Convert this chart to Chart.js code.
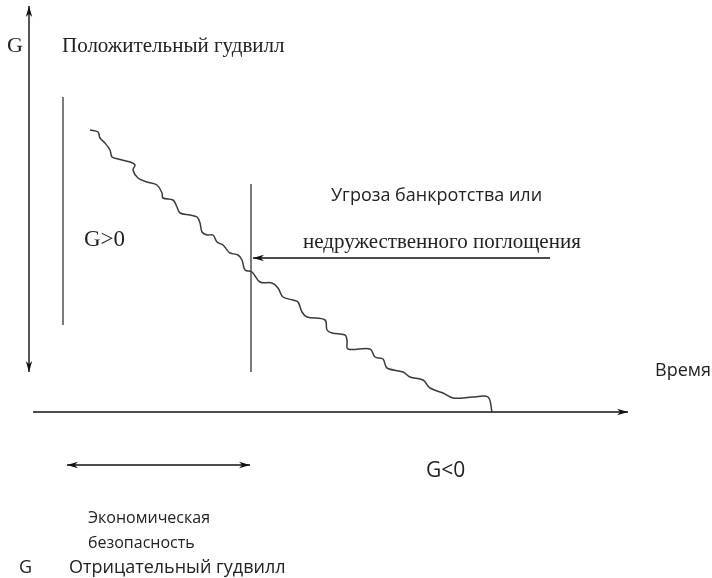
<!DOCTYPE html>
<html>
<head>
<meta charset="utf-8">
<script src="https://cdn.jsdelivr.net/npm/chart.js@4"></script>
<style>
  body { margin: 0; background: #fff; }
  canvas { display: block; }
</style>
</head>
<body>
<canvas id="goodwillChart" width="712" height="578"></canvas>
<script>
// кривая гудвилла (координаты в единицах шкал)
const waveX = [90, 98, 100, 105, 110, 112, 118, 130, 135, 133, 138, 147, 157, 162, 163, 173, 177, 180, 190, 197, 200, 202, 207, 213, 217, 223, 227, 230, 238, 242, 245,
    252, 260, 272, 278, 283, 293, 298, 302, 307, 325, 327, 332, 345, 347, 348, 370, 375, 383, 387, 403, 410, 423, 430, 443, 453, 473, 488, 492];
const waveY = [130, 132, 138, 143, 150, 157, 159, 162, 165, 170, 178, 182, 185, 193, 198, 200, 207, 213, 215, 217, 223, 232, 235, 235, 242, 245, 250, 253, 255, 260, 270,
    272, 282, 283, 288, 297, 300, 302, 312, 317, 320, 330, 333, 335, 340, 349, 349, 357, 359, 368, 372, 377, 380, 388, 393, 398, 397, 397, 412];

// оси и вспомогательные линии
const axisGX = [29, 29], axisGY = [6, 372];
const axisTX = [33, 628], axisTY = [412, 412];
const leftBarX = [63, 63], leftBarY = [97, 325];
const threatBarX = [251, 251], threatBarY = [184, 372];
const threatArrowX = [550, 253], threatArrowY = [258, 258];
const safetyArrowX = [67, 250], safetyArrowY = [465, 465];

// подписи
const labelTexts = ['G', 'Положительный гудвилл', 'G>0', 'Угроза банкротства или', 'недружественного поглощения',
    'Время', 'G<0', 'Экономическая', 'безопасность', 'G', 'Отрицательный гудвилл'];
const labelX = [7, 62, 84, 331, 303, 655, 426, 88, 88, 19, 69];
const labelY = [46, 46, 240, 196, 242, 371, 471, 518, 543, 568, 568];

const serif = '"Liberation Serif", "DejaVu Serif", serif';
const sans = '"Open Sans", "Noto Sans", sans-serif';
const labelFonts = [
    '22px ' + serif, '21px ' + serif, '23px ' + serif, '18px ' + sans, '21px ' + serif,
    '18px ' + sans, '21px ' + sans, '16px ' + sans, '16px ' + sans, '18px ' + sans, '18px ' + sans
];

const toPoints = (xs, ys) => xs.map((x, i) => ({ x: x, y: ys[i] }));

function segment(xs, ys, color) {
    return {
        data: toPoints(xs, ys),
        showLine: true,
        borderColor: color,
        borderWidth: 1.4,
        pointRadius: 0,
        tension: 0
    };
}

// наконечники стрелок: [массив X, массив Y, с обоих концов?]
const arrowHeads = [
    [axisGX, axisGY, true],
    [axisTX, axisTY, false],
    [threatArrowX, threatArrowY, false],
    [safetyArrowX, safetyArrowY, true]
];

const annotationsPlugin = {
    id: 'annotations',
    afterDatasetsDraw(chart) {
        const ctx = chart.ctx;
        const xs = chart.scales.x;
        const ys = chart.scales.y;

        function head(x1, y1, x2, y2) {
            const px1 = xs.getPixelForValue(x1), py1 = ys.getPixelForValue(y1);
            const px2 = xs.getPixelForValue(x2), py2 = ys.getPixelForValue(y2);
            const a = Math.atan2(py2 - py1, px2 - px1);
            const len = 11, w = 3.2;
            ctx.beginPath();
            ctx.moveTo(px2, py2);
            ctx.lineTo(px2 - len * Math.cos(a) + w * Math.sin(a), py2 - len * Math.sin(a) - w * Math.cos(a));
            ctx.lineTo(px2 - len * 0.7 * Math.cos(a), py2 - len * 0.7 * Math.sin(a));
            ctx.lineTo(px2 - len * Math.cos(a) - w * Math.sin(a), py2 - len * Math.sin(a) + w * Math.cos(a));
            ctx.closePath();
            ctx.fill();
        }

        ctx.save();
        ctx.fillStyle = '#111';
        arrowHeads.forEach(([ax, ay, both]) => {
            head(ax[0], ay[0], ax[1], ay[1]);
            if (both) head(ax[1], ay[1], ax[0], ay[0]);
        });

        ctx.textBaseline = 'middle';
        ctx.textAlign = 'left';
        labelTexts.forEach((t, i) => {
            ctx.font = labelFonts[i];
            ctx.fillStyle = '#222';
            ctx.fillText(t, xs.getPixelForValue(labelX[i]), ys.getPixelForValue(labelY[i]));
        });
        ctx.restore();
    }
};

new Chart(document.getElementById('goodwillChart'), {
    type: 'scatter',
    data: {
        datasets: [
            {
                data: toPoints(waveX, waveY),
                showLine: true,
                borderColor: '#3a3a3a',
                borderWidth: 1.5,
                pointRadius: 0,
                tension: 0.35
            },
            segment(axisGX, axisGY, '#111'),
            segment(axisTX, axisTY, '#111'),
            segment(leftBarX, leftBarY, '#444'),
            segment(threatBarX, threatBarY, '#444'),
            segment(threatArrowX, threatArrowY, '#111'),
            segment(safetyArrowX, safetyArrowY, '#111')
        ]
    },
    options: {
        responsive: false,
        animation: false,
        layout: { padding: 0 },
        plugins: {
            legend: { display: false },
            tooltip: { enabled: false }
        },
        scales: {
            x: { type: 'linear', min: 0, max: 712, display: false },
            y: { type: 'linear', min: 0, max: 578, reverse: true, display: false }
        }
    },
    plugins: [annotationsPlugin]
});
</script>
</body>
</html>
